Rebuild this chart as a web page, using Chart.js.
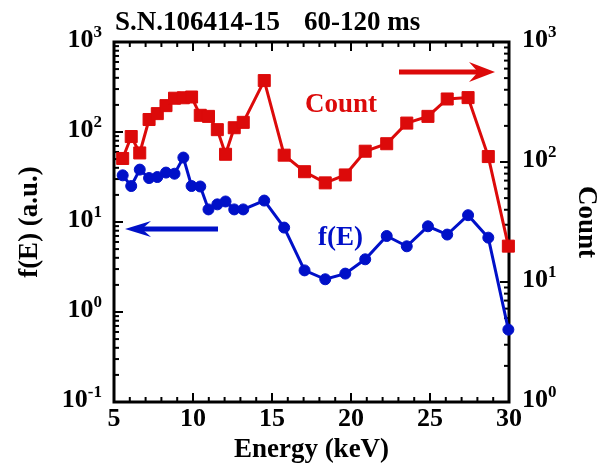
<!DOCTYPE html>
<html>
<head>
<meta charset="utf-8">
<script src="https://cdn.jsdelivr.net/npm/chart.js@4/dist/chart.umd.min.js"></script>
<style>
  html, body { margin: 0; padding: 0; background: #fff; }
  #wrap { width: 599px; height: 468px; }
</style>
</head>
<body>
<div id="wrap"><canvas id="myChart"></canvas></div>
<script>
// energy bins (keV) shared by both series
const energy = [5.55, 6.09, 6.63, 7.22, 7.74, 8.29, 8.83, 9.39, 9.91, 10.46, 10.98, 11.54, 12.06, 12.61,
  13.18, 14.51, 15.77, 17.06, 18.37, 19.64, 20.9, 22.26, 23.53, 24.87, 26.09, 27.41, 28.69, 29.96];
// counts per bin (right axis)
const countVals = [107, 163, 119, 226, 253, 295, 340, 343, 348, 245, 240, 186, 116, 193,
  214, 477, 114, 83, 67, 78, 123, 142, 211, 240, 335, 344, 111, 19.9];
// distribution function f(E) (left axis)
const fVals = [33.0, 25.1, 38.2, 30.8, 31.6, 35.4, 34.4, 52, 25.1, 24.8, 13.8, 15.7, 16.9, 13.8,
  13.8, 17.3, 8.67, 2.9, 2.31, 2.67, 3.85, 6.99, 5.37, 8.96, 7.25, 11.9, 6.7, 0.637];
// decade exponents labelled on each log axis
const leftExp = [-1, 0, 1, 2, 3];
const rightExp = [0, 1, 2, 3];

const RED = '#dc0a0a';
const BLUE = '#0010c8';
const SERIF = "'Liberation Serif', 'Times New Roman', serif";

function pts(vals) {
  return energy.map((e, i) => ({ x: e, y: vals[i] }));
}

function line(ctx, x1, y1, x2, y2) {
  ctx.beginPath(); ctx.moveTo(x1, y1); ctx.lineTo(x2, y2); ctx.stroke();
}

function arrow(ctx, x1, x2, y, half, color) {
  const dir = Math.sign(x2 - x1);
  ctx.strokeStyle = color; ctx.fillStyle = color; ctx.lineWidth = 5;
  line(ctx, x1, y, x2 - dir * 10, y);
  ctx.beginPath();
  ctx.moveTo(x2, y);
  ctx.lineTo(x2 - dir * 26, y - half);
  ctx.lineTo(x2 - dir * 17, y);
  ctx.lineTo(x2 - dir * 26, y + half);
  ctx.closePath(); ctx.fill();
}

// power-of-ten label: "10" plus a raised exponent
function powLabel(ctx, exp, x, y, alignRight) {
  ctx.fillStyle = '#000';
  ctx.textBaseline = 'alphabetic';
  ctx.textAlign = 'left';
  ctx.font = 'bold 26px ' + SERIF;
  const base = ctx.measureText('10').width;
  ctx.font = 'bold 17px ' + SERIF;
  const sup = ctx.measureText(String(exp)).width;
  const x0 = alignRight ? x - base - sup : x;
  ctx.font = 'bold 26px ' + SERIF;
  ctx.fillText('10', x0, y + 5);
  ctx.font = 'bold 17px ' + SERIF;
  ctx.fillText(String(exp), x0 + base, y - 5);
}

const axisPlugin = {
  id: 'axisPlugin',
  beforeDatasetsDraw(chart) {
    const { ctx, chartArea: a, scales } = chart;
    ctx.save();
    ctx.strokeStyle = '#000';
    ctx.lineWidth = 2;
    // energy ticks, bottom and top
    for (let v = 5; v <= 30; v++) {
      const px = scales.x.getPixelForValue(v);
      const len = v % 5 ? 5 : 9;
      line(ctx, px, a.bottom, px, a.bottom - len);
      line(ctx, px, a.top, px, a.top + len);
    }
    // log ticks on the f(E) axis
    for (let e = leftExp[0]; e < leftExp[leftExp.length - 1]; e++) {
      for (let k = 1; k <= 9; k++) {
        const py = scales.y.getPixelForValue(k * Math.pow(10, e));
        line(ctx, a.left, py, a.left + (k === 1 ? 9 : 5), py);
      }
    }
    // log ticks on the Count axis
    for (let e = rightExp[0]; e < rightExp[rightExp.length - 1]; e++) {
      for (let k = 1; k <= 9; k++) {
        const py = scales.y1.getPixelForValue(k * Math.pow(10, e));
        line(ctx, a.right, py, a.right - (k === 1 ? 9 : 5), py);
      }
    }
    ctx.lineWidth = 3;
    ctx.strokeRect(a.left, a.top, a.right - a.left, a.bottom - a.top);
    ctx.restore();
  },
  afterDraw(chart) {
    const { ctx, scales } = chart;
    ctx.save();
    leftExp.forEach(e => powLabel(ctx, e, 102, scales.y.getPixelForValue(Math.pow(10, e)), true));
    rightExp.forEach(e => powLabel(ctx, e, 522, scales.y1.getPixelForValue(Math.pow(10, e)), false));

    ctx.fillStyle = '#000';
    ctx.font = 'bold 27px ' + SERIF;
    ctx.textAlign = 'left';
    ctx.textBaseline = 'alphabetic';
    ctx.fillText('S.N.106414-15', 115, 30);
    ctx.fillText('60-120 ms', 304, 30);

    ctx.fillStyle = RED;
    ctx.fillText('Count', 305, 112);
    ctx.fillStyle = BLUE;
    ctx.fillText('f(E)', 318, 245);

    arrow(ctx, 399, 495, 72, 10, RED);
    arrow(ctx, 218, 125, 229, 8, BLUE);
    ctx.restore();
  }
};

const ctx = document.getElementById('myChart');

new Chart(ctx, {
  type: 'line',
  data: {
    datasets: [{
      label: 'Count',
      data: pts(countVals),
      yAxisID: 'y1',
      borderColor: RED,
      backgroundColor: RED,
      borderWidth: 3,
      pointStyle: 'rect',
      pointRadius: 8.5,
      pointBorderWidth: 1,
      clip: false
    }, {
      label: 'f(E)',
      data: pts(fVals),
      yAxisID: 'y',
      borderColor: BLUE,
      backgroundColor: BLUE,
      borderWidth: 3,
      pointStyle: 'circle',
      pointRadius: 5.5,
      pointBorderWidth: 1,
      clip: false
    }]
  },
  options: {
    responsive: true,
    maintainAspectRatio: false,
    animation: false,
    layout: { padding: { top: 42, left: 0, right: 0, bottom: 0 } },
    plugins: {
      legend: { display: false },
      tooltip: { enabled: false }
    },
    scales: {
      x: {
        type: 'linear',
        min: 5,
        max: 30,
        grid: { display: false, drawTicks: false },
        border: { display: false },
        ticks: {
          stepSize: 5,
          padding: 2,
          color: '#000',
          font: { family: SERIF, size: 26, weight: 'bold' }
        },
        title: {
          display: true,
          text: 'Energy (keV)',
          color: '#000',
          padding: { bottom: 2 },
          font: { family: SERIF, size: 27, weight: 'bold' }
        },
        afterFit(scale) { scale.height = 66; }
      },
      y: {
        type: 'logarithmic',
        position: 'left',
        min: 0.1,
        max: 1000,
        grid: { display: false },
        border: { display: false },
        ticks: { display: false },
        title: {
          display: true,
          text: 'f(E) (a.u.)',
          color: '#000',
          padding: { top: 14 },
          font: { family: SERIF, size: 27, weight: 'bold' }
        },
        afterFit(scale) { scale.width = 114; }
      },
      y1: {
        type: 'logarithmic',
        position: 'right',
        min: 1,
        max: 1000,
        grid: { display: false },
        border: { display: false },
        ticks: { display: false },
        title: {
          display: true,
          text: 'Count',
          color: '#000',
          padding: { top: -3 },
          font: { family: SERIF, size: 27, weight: 'bold' }
        },
        afterFit(scale) { scale.width = 90; }
      }
    }
  },
  plugins: [axisPlugin]
});
</script>
</body>
</html>
